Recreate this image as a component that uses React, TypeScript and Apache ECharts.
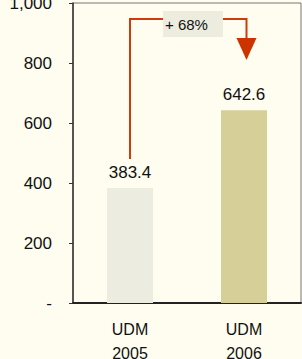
import React, { useEffect, useRef } from "react";
import * as echarts from "echarts";

const categories = ["UDM\n2005", "UDM\n2006"];
const values = [383.4, 642.6];
const barColors = ["#ECEDE0", "#D6CF98"];
const yTicks = [0, 200, 400, 600, 800, 1000];
const changeLabel = "+ 68%";
// annotation levels (in axis value units)
const arrowStartValue = 480;
const arrowTopValue = 947;
const arrowHeadTopValue = 883;
const arrowTipValue = 810;

export default function App() {
  const ref = useRef<HTMLDivElement>(null);
  useEffect(() => {
    if (!ref.current) return;
    const chart = echarts.init(ref.current, null, { renderer: "svg" });
    const font = "'Liberation Sans', Arial, sans-serif";
    chart.setOption({
      animation: false,
      backgroundColor: "#FEFDF0",
      grid: {
        left: 73,
        right: 1,
        top: 3,
        bottom: 56,
        containLabel: false,
        outerBoundsMode: "none",
        show: true,
        borderColor: "#777",
        borderWidth: 1,
        backgroundColor: "transparent",
      },
      xAxis: {
        type: "category",
        data: categories,
        axisLine: { show: true, lineStyle: { color: "#222", width: 2 } },
        axisTick: { show: false },
        axisLabel: {
          color: "#111",
          fontSize: 16,
          fontFamily: font,
          lineHeight: 24,
          margin: 14,
        },
      },
      yAxis: {
        type: "value",
        min: 0,
        max: 1000,
        interval: 200,
        splitLine: { show: false },
        axisLine: { show: true, lineStyle: { color: "#333", width: 1.5 } },
        axisTick: { show: true, length: 4, lineStyle: { color: "#333" } },
        axisLabel: {
          color: "#111",
          fontSize: 17,
          fontFamily: font,
          margin: 21,
          formatter: (v: number) =>
            yTicks.includes(v) ? (v === 0 ? "-" : v.toLocaleString("en-US")) : "",
        },
      },
      series: [
        {
          type: "bar",
          barWidth: 46,
          data: values.map((v, i) => ({ value: v, itemStyle: { color: barColors[i] } })),
          label: {
            show: true,
            position: "top",
            distance: 7,
            color: "#111",
            fontSize: 17,
            fontFamily: font,
            formatter: (p: any) => p.value.toFixed(1),
          },
        },
      ],
    });

    const p = (i: number, v: number) =>
      chart.convertToPixel({ xAxisIndex: 0, yAxisIndex: 0 }, [i, v]) as number[];
    const s = p(0, arrowStartValue);
    const t0 = p(0, arrowTopValue);
    const t1 = p(1, arrowTopValue);
    const ah = p(1, arrowHeadTopValue);
    const tip = p(1, arrowTipValue);
    const off = 2.5;
    const red = "#D03A0C";
    const boxTop = p(0, 973)[1];
    const boxBottom = p(0, 887)[1];
    const mid = (s[0] + t1[0]) / 2 + 6;
    chart.setOption({
      graphic: [
        {
          type: "polyline",
          shape: {
            points: [
              [s[0], s[1]],
              [t0[0], t0[1]],
              [t1[0] + off, t1[1]],
              [ah[0] + off, ah[1] + 2],
            ],
          },
          style: { stroke: red, lineWidth: 2, fill: null },
        },
        {
          type: "polygon",
          shape: {
            points: [
              [ah[0] + off - 10, ah[1]],
              [ah[0] + off + 10, ah[1]],
              [tip[0] + off, tip[1]],
            ],
          },
          style: { fill: "#CC3300" },
        },
        {
          type: "rect",
          shape: { x: mid - 30, y: boxTop, width: 60, height: boxBottom - boxTop },
          style: { fill: "#ECECDF" },
        },
        {
          type: "text",
          x: mid - 28,
          y: (boxTop + boxBottom) / 2,
          style: {
            text: changeLabel,
            fill: "#111",
            fontSize: 15,
            fontFamily: font,
            verticalAlign: "middle",
            align: "left",
          },
        },
      ],
    });
    return () => chart.dispose();
  }, []);
  return (
    <div
      ref={ref}
      style={{ position: "fixed", left: 0, top: 0, width: 302, height: 359 }}
    />
  );
}
